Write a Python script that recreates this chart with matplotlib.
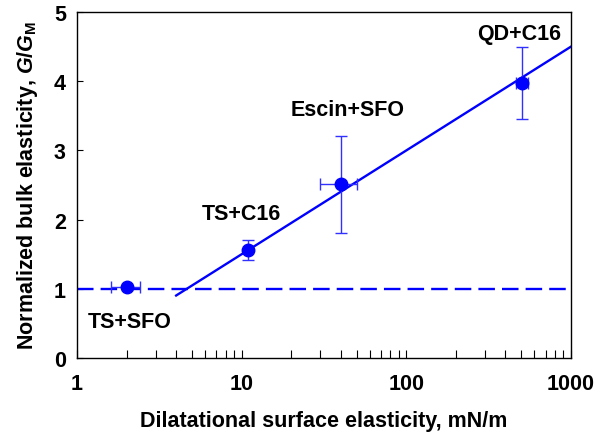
import numpy as np
import matplotlib
matplotlib.use("Agg")
import matplotlib.pyplot as plt
from matplotlib.ticker import LogLocator, FixedLocator, NullFormatter

plt.rcParams["font.family"] = ["Liberation Sans", "DejaVu Sans"]
plt.rcParams["font.weight"] = "bold"
plt.rcParams["mathtext.fontset"] = "custom"
plt.rcParams["mathtext.rm"] = "Liberation Sans:bold"
plt.rcParams["mathtext.it"] = "Liberation Sans:bold:italic"
plt.rcParams["mathtext.bf"] = "Liberation Sans:bold"

# measured systems
systems = ["TS+SFO", "TS+C16", "Escin+SFO", "QD+C16"]
surf_elast = [2.0, 10.9, 40.0, 505.0]
surf_err = [0.4, 0.3, 10.0, 42.0]
bulk_norm = [1.02, 1.56, 2.51, 3.97]
bulk_err = [0.03, 0.14, 0.70, 0.52]

# label positions (x, y) in data units
label_x = [2.08, 10.0, 44.0, 483.0]
label_y = [0.53, 2.09, 3.59, 4.69]

# fitted line G/GM = 1.5*log10(E), drawn from E = 4 upward
fit_x = [4.0, 1000.0]
fit_slope = 1.5
ref_level = 1.0

FS = 15.5

fig = plt.figure(figsize=(5.95, 4.35), dpi=100)
ax = fig.add_axes([0.1294, 0.1747, 0.8303, 0.7954])

ax.plot([1, 1000], [ref_level, ref_level], "--", color="#0000ff", lw=1.7,
        dashes=(7, 3))
ax.plot(fit_x, [fit_slope * np.log10(v) for v in fit_x], "-", color="#0000ff", lw=1.7)

ax.errorbar(surf_elast, bulk_norm, xerr=surf_err, yerr=bulk_err, fmt="o",
            color="#0000ff", ecolor="#3030ff", elinewidth=1.0, capsize=4.5,
            capthick=1.0, ms=9, zorder=3)

for name, lx, ly in zip(systems, label_x, label_y):
    ax.text(lx, ly, name, ha="center", va="center", fontsize=FS, fontweight="bold")

ax.set_xscale("log")
ax.set_xlim(1, 1000)
ax.set_ylim(0, 5)
ax.xaxis.set_major_locator(FixedLocator([1, 10, 100, 1000]))
ax.xaxis.set_minor_locator(LogLocator(base=10, subs=np.arange(2, 10)))
ax.xaxis.set_minor_formatter(NullFormatter())
ax.set_xticklabels(["1", "10", "100", "1000"])
ax.set_yticks([0, 1, 2, 3, 4, 5])

ax.tick_params(axis="x", which="both", direction="in", length=6, width=0.8,
               labelsize=FS, pad=11)
ax.tick_params(axis="y", which="both", direction="in", length=4, width=0.8,
               labelsize=FS, pad=8)
for s in ax.spines.values():
    s.set_linewidth(1.0)

ax.set_xlabel("Dilatational surface elasticity, mN/m", fontsize=FS,
              fontweight="bold", labelpad=11.5)
ax.set_ylabel(r"Normalized bulk elasticity, $G/G_\mathrm{M}$", fontsize=FS,
              fontweight="bold", labelpad=10)

fig.savefig("out.png", dpi=100)
